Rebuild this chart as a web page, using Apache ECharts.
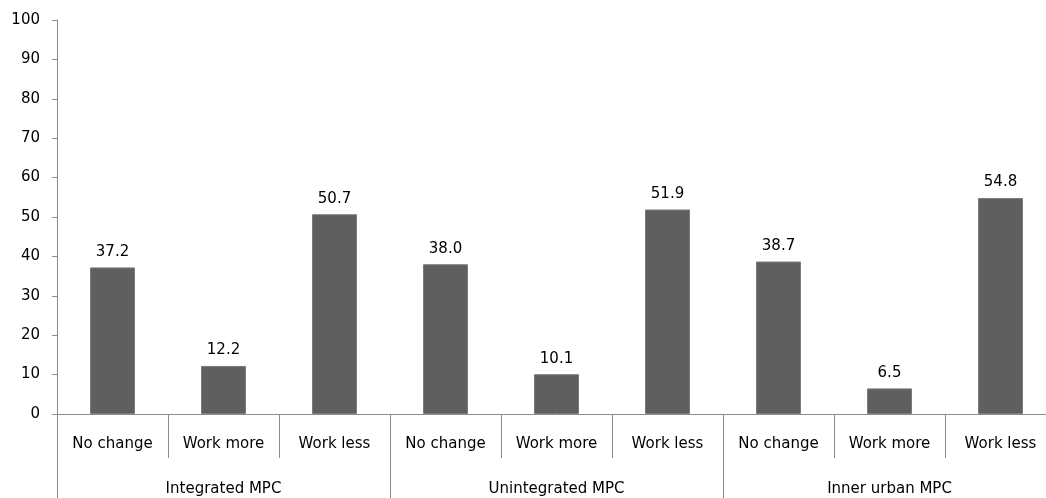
<!DOCTYPE html>
<html>
<head>
<meta charset="utf-8">
<script src="https://cdn.jsdelivr.net/npm/echarts@6/dist/echarts.min.js"></script>
<style>
  html, body { margin: 0; padding: 0; background: #fff; overflow: hidden; }
  #main { width: 1070px; height: 498px; }
</style>
</head>
<body>
<div id="main"></div>
<script>
// 数据
var answers = ['No change', 'Work more', 'Work less',
               'No change', 'Work more', 'Work less',
               'No change', 'Work more', 'Work less'];
var groups = ['Integrated MPC', 'Unintegrated MPC', 'Inner urban MPC'];
var shares = [37.2, 12.2, 50.7, 38.0, 10.1, 51.9, 38.7, 6.5, 54.8];

var font = 'DejaVu Sans';
var axisGray = '#8c8c8c';

// 图表比窗口略宽，最右一格被裁掉，和原图一致
var myChart = echarts.init(document.getElementById('main'));
myChart.setOption({
  animation: false,
  textStyle: { fontFamily: font },
  grid: { left: 57, right: 14, top: 20, bottom: 84, containLabel: false },
  xAxis: [{
    type: 'category',
    data: answers,
    position: 'bottom',
    axisLine: { show: true, lineStyle: { color: axisGray } },
    axisTick: { show: true, length: 44, interval: 0, alignWithLabel: false, lineStyle: { color: axisGray } },
    axisLabel: { interval: 0, margin: 23, color: '#000', fontSize: 15, fontFamily: font }
  }, {
    type: 'category',
    data: groups,
    position: 'bottom',
    axisLine: { show: false },
    axisTick: { show: true, length: 84, interval: 0, alignWithLabel: false, lineStyle: { color: axisGray } },
    axisLabel: { interval: 0, margin: 68, color: '#000', fontSize: 15, fontFamily: font }
  }],
  yAxis: {
    type: 'value',
    min: 0,
    max: 100,
    interval: 10,
    axisLine: { show: true, lineStyle: { color: axisGray } },
    axisTick: { show: true, length: 5, lineStyle: { color: axisGray } },
    splitLine: { show: false },
    axisLabel: { margin: 17, color: '#000', fontSize: 15, fontFamily: font }
  },
  series: [{
    type: 'bar',
    xAxisIndex: 0,
    data: shares,
    barWidth: 45,
    itemStyle: { color: '#5f5f5f', borderColor: '#7a7a7a', borderWidth: 1 },
    label: {
      show: true,
      position: 'top',
      distance: 8,
      color: '#000',
      fontSize: 15,
      fontFamily: font,
      formatter: function (p) { return p.value.toFixed(1); }
    }
  }]
});
</script>
</body>
</html>
